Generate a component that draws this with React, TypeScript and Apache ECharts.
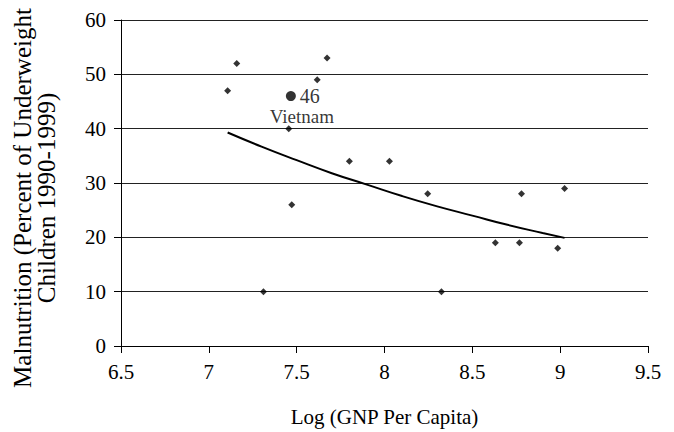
import React, { useEffect, useRef } from "react";
import * as echarts from "echarts";

const logGnp = [7.107, 7.159, 7.673, 7.617, 7.455, 7.8, 8.028, 8.246, 7.472, 7.311, 8.324, 8.631, 8.768, 8.78, 9.025, 8.986];
const malnutrition = [47, 52, 53, 49, 40, 34, 34, 28, 26, 10, 10, 19, 19, 28, 29, 18];

const vietnamX = 7.467;
const vietnamY = 46;
const vietnamName = "Vietnam";

const trendX = [7.107, 7.3, 7.5, 7.7, 7.9, 8.1, 8.3, 8.5, 8.7, 8.9, 9.025];
const trendY = [39.3, 36.7, 34.2, 31.8, 29.7, 27.6, 25.7, 24.0, 22.3, 20.8, 19.9];

const xTicks = [6.5, 7, 7.5, 8, 8.5, 9, 9.5];
const yTicks = [0, 10, 20, 30, 40, 50, 60];

const xTitle = "Log (GNP Per Capita)";
const yTitle = "Malnutrition (Percent of Underweight\nChildren 1990-1999)";

const FONT = "'Liberation Serif', 'Times New Roman', serif";

export default function App() {
  const ref = useRef<HTMLDivElement>(null);
  useEffect(() => {
    if (!ref.current) return;
    const chart = echarts.init(ref.current, null, { renderer: "svg" });
    const points = logGnp.map((x, i) => [x, malnutrition[i]]);
    const trend = trendX.map((x, i) => [x, trendY[i]]);
    chart.setOption({
      animation: false,
      backgroundColor: "#ffffff",
      grid: { left: 121, right: 26, top: 20, bottom: 86, outerBoundsMode: "none", containLabel: false },
      graphic: [
        {
          type: "text",
          x: 34,
          y: 198,
          rotation: Math.PI / 2,
          style: {
            text: yTitle,
            fontFamily: FONT,
            fontSize: 25,
            lineHeight: 24,
            fill: "#000",
            textAlign: "center",
            textVerticalAlign: "middle",
            align: "center",
            verticalAlign: "middle",
          },
        },
      ],
      xAxis: {
        type: "value",
        min: xTicks[0],
        max: xTicks[xTicks.length - 1],
        interval: 0.5,
        name: xTitle,
        nameLocation: "middle",
        nameGap: 60,
        nameTextStyle: { fontFamily: FONT, fontSize: 21, color: "#000" },
        axisLine: { show: true, onZero: false, lineStyle: { color: "#000", width: 1 } },
        axisTick: { show: true, inside: false, length: 7, lineStyle: { color: "#000" } },
        axisLabel: {
          fontFamily: FONT,
          fontSize: 21,
          color: "#000",
          margin: 15,
          formatter: (v: number) => String(v),
        },
        splitLine: { show: false },
      },
      yAxis: {
        type: "value",
        min: yTicks[0],
        max: yTicks[yTicks.length - 1],
        interval: 10,
        axisLine: { show: true, lineStyle: { color: "#000", width: 1 } },
        axisTick: { show: true, inside: false, length: 7, lineStyle: { color: "#000" } },
        axisLabel: { fontFamily: FONT, fontSize: 21, color: "#000", margin: 15 },
        splitLine: { show: true, lineStyle: { color: "#222", width: 1 } },
      },
      series: [
        {
          type: "line",
          data: trend,
          smooth: true,
          showSymbol: false,
          symbol: "none",
          lineStyle: { color: "#000", width: 2 },
          z: 3,
        },
        {
          type: "scatter",
          data: points,
          symbol: "diamond",
          symbolSize: 7,
          itemStyle: { color: "#000" },
          z: 4,
        },
        {
          type: "scatter",
          data: [[vietnamX, vietnamY]],
          symbol: "circle",
          symbolSize: 10,
          itemStyle: { color: "#000" },
          label: {
            show: true,
            position: "right",
            distance: 4,
            formatter: String(vietnamY),
            fontFamily: FONT,
            fontSize: 20,
            color: "#000",
          },
          z: 5,
        },
        {
          type: "scatter",
          data: [[vietnamX, vietnamY]],
          symbolSize: 0,
          itemStyle: { color: "transparent" },
          label: {
            show: true,
            position: "inside",
            offset: [11, 20],
            formatter: vietnamName,
            fontFamily: FONT,
            fontSize: 19,
            color: "#000",
          },
          z: 5,
        },
      ],
    });
    return () => chart.dispose();
  }, []);
  return (
    <div
      ref={ref}
      style={{ position: "fixed", left: 0, top: 0, width: 674, height: 432, background: "#fff" }}
    />
  );
}
